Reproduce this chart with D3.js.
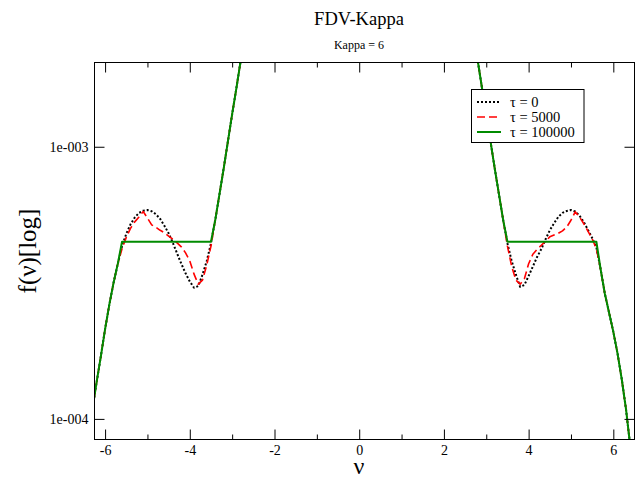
<!DOCTYPE html>
<html>
<head>
<meta charset="utf-8">
<script src="https://cdn.jsdelivr.net/npm/d3@7"></script>
<style>
    body { margin: 0; background: #fff; }
    text { font-family: 'Liberation Serif', 'Times New Roman', serif; fill: #000; }
</style>
</head>
<body>
<svg id="chart" width="643" height="481"></svg>
<script>
// velocity grid; the core |v| < 2.6 lies far above the plot and is clipped anyway
const nu = [
    -6.3, -6.2, -6.1, -6.0, -5.9, -5.8, -5.7, -5.6, -5.5, -5.4, -5.3, -5.2, -5.1,
    -5.0, -4.9, -4.8, -4.7, -4.6, -4.5, -4.4, -4.3, -4.2, -4.1, -4.0, -3.9, -3.8,
    -3.7, -3.6, -3.5, -3.4, -3.3, -3.2, -3.1, -3.0, -2.9, -2.8, -2.7, -2.6,
    2.6, 2.7, 2.8, 2.9, 3.0, 3.1, 3.2, 3.3, 3.4, 3.5, 3.6, 3.7, 3.8, 3.9,
    4.0, 4.1, 4.2, 4.3, 4.4, 4.5, 4.6, 4.7, 4.8, 4.9, 5.0, 5.1, 5.2, 5.3,
    5.4, 5.5, 5.6, 5.7, 5.8, 5.9, 6.0, 6.1, 6.2, 6.3, 6.4, 6.5,
];

// f(v), in units of 1e-4
const fTau0 = [
    1.084, 1.365, 1.698, 2.138, 2.630, 3.162, 3.715, 4.315, 4.786, 5.188, 5.495, 5.715, 5.821,
    5.855, 5.794, 5.650, 5.433, 5.129, 4.809, 4.436, 4.055, 3.715, 3.428, 3.199, 3.033, 3.076,
    3.388, 3.802, 4.416, 5.37, 6.68, 8.32, 10.47, 13.18, 16.41, 20.65, 25.7, 32.4,
    32.4, 25.7, 20.65, 16.41, 13.18, 10.47, 8.32, 6.68, 5.37, 4.416, 3.802, 3.388, 3.055, 3.104,
    3.350, 3.631, 3.935, 4.207, 4.571, 4.932, 5.235, 5.521, 5.715, 5.808, 5.855, 5.781, 5.585, 5.297,
    4.955, 4.624, 4.266, 3.548, 2.884, 2.455, 2.089, 1.738, 1.396, 1.084, 0.794, 0.575,
];

const fTau5000 = [
    1.084, 1.365, 1.698, 2.138, 2.630, 3.162, 3.715, 4.217, 4.645, 5.012, 5.297, 5.521, 5.781,
    5.470, 5.164, 5.058, 4.932, 4.831, 4.699, 4.571, 4.436, 4.286, 4.074, 3.802, 3.404, 3.126,
    3.236, 3.673, 4.315, 5.37, 6.68, 8.32, 10.47, 13.18, 16.41, 20.65, 25.7, 32.4,
    32.4, 25.7, 20.65, 16.41, 13.18, 10.47, 8.32, 6.68, 5.37, 4.315, 3.631, 3.236, 3.126, 3.273,
    3.715, 4.027, 4.198, 4.345, 4.498, 4.667, 4.742, 4.809, 4.909, 5.070, 5.370, 5.768, 5.521, 5.224,
    4.898, 4.592, 4.217, 3.548, 2.884, 2.455, 2.089, 1.738, 1.396, 1.084, 0.794, 0.575,
];

const fTau100000 = [
    1.084, 1.365, 1.698, 2.138, 2.630, 3.162, 3.715, 4.477, 4.477, 4.477, 4.477, 4.477, 4.477,
    4.477, 4.477, 4.477, 4.477, 4.477, 4.477, 4.477, 4.477, 4.477, 4.477, 4.477, 4.477, 4.477,
    4.477, 4.477, 4.477, 5.37, 6.68, 8.32, 10.47, 13.18, 16.41, 20.65, 25.7, 32.4,
    32.4, 25.7, 20.65, 16.41, 13.18, 10.47, 8.32, 6.68, 5.37, 4.477, 4.477, 4.477, 4.477, 4.477,
    4.477, 4.477, 4.477, 4.477, 4.477, 4.477, 4.477, 4.477, 4.477, 4.477, 4.477, 4.477, 4.477, 4.477,
    4.477, 4.477, 4.477, 3.548, 2.884, 2.455, 2.089, 1.738, 1.396, 1.084, 0.794, 0.575,
];

const seriesLabels = ['\u03c4 = 0', '\u03c4 = 5000', '\u03c4 = 100000'];
const xMajorTicks = [-6, -4, -2, 0, 2, 4, 6];
const xMinorTicks = [-5, -3, -1, 1, 3, 5];
const yTicks = [1e-4, 1e-3];
const yTickLabels = ['1e-004', '1e-003'];

const frame = { left: 94.5, right: 634.5, top: 62.5, bottom: 439.5 };

const svg = d3.select('#chart');

const x = d3.scaleLinear()
    .domain([-6.25, 6.5])
    .range([frame.left, frame.right]);
const y = d3.scaleLog()
    .domain([8.4e-5, 2.04e-3])
    .range([frame.bottom, frame.top]);

const series = [
    { values: fTau0, color: '#000000', dash: '2,2', width: 2 },
    { values: fTau5000, color: '#ff0000', dash: '8,4', width: 1.6 },
    { values: fTau100000, color: '#008b00', dash: null, width: 2 },
];

svg.append('clipPath')
    .attr('id', 'plot-clip')
    .append('rect')
    .attr('x', frame.left)
    .attr('y', frame.top)
    .attr('width', frame.right - frame.left)
    .attr('height', frame.bottom - frame.top);

const line = d3.line()
    .x((d) => x(d[0]))
    .y((d) => y(d[1] * 1e-4));

const curves = svg.append('g').attr('clip-path', 'url(#plot-clip)');
series.forEach((s) => {
    curves.append('path')
        .datum(nu.map((v, i) => [v, s.values[i]]))
        .attr('d', line)
        .attr('fill', 'none')
        .attr('stroke', s.color)
        .attr('stroke-width', s.width)
        .attr('stroke-dasharray', s.dash)
        .attr('stroke-linejoin', 'round');
});

// axes: ticks point inward on all four sides
const drawAxis = (axis, transform) => {
    const g = svg.append('g')
        .attr('transform', transform)
        .style('font-size', '14px')
        .style('font-family', "'Liberation Serif', 'Times New Roman', serif")
        .call(axis);
    g.select('.domain').remove();
    g.selectAll('.tick line').attr('stroke', '#000');
    return g;
};

drawAxis(d3.axisBottom(x).tickValues(xMajorTicks).tickSize(-10).tickPadding(6)
    .tickFormat((d) => String(d)), `translate(0,${frame.bottom})`);
drawAxis(d3.axisBottom(x).tickValues(xMinorTicks).tickSize(-5).tickFormat(''),
    `translate(0,${frame.bottom})`);
drawAxis(d3.axisTop(x).tickValues(xMajorTicks).tickSize(-10).tickFormat(''),
    `translate(0,${frame.top})`);
drawAxis(d3.axisTop(x).tickValues(xMinorTicks).tickSize(-5).tickFormat(''),
    `translate(0,${frame.top})`);
drawAxis(d3.axisLeft(y).tickValues(yTicks).tickSize(-10).tickPadding(6)
    .tickFormat((d, i) => yTickLabels[i]), `translate(${frame.left},0)`);
drawAxis(d3.axisRight(y).tickValues(yTicks).tickSize(-10).tickFormat(''),
    `translate(${frame.right},0)`);

svg.append('rect')
    .attr('x', frame.left)
    .attr('y', frame.top)
    .attr('width', frame.right - frame.left)
    .attr('height', frame.bottom - frame.top)
    .attr('fill', 'none')
    .attr('stroke', '#000')
    .attr('stroke-width', 1);

// titles
svg.append('text')
    .attr('x', 359)
    .attr('y', 24.5)
    .attr('text-anchor', 'middle')
    .style('font-size', '18.5px')
    .text('FDV-Kappa');
svg.append('text')
    .attr('x', 359)
    .attr('y', 48.5)
    .attr('text-anchor', 'middle')
    .style('font-size', '12px')
    .text('Kappa = 6');

svg.append('text')
    .attr('x', 359)
    .attr('y', 474)
    .attr('text-anchor', 'middle')
    .style('font-size', '24px')
    .text('\u03bd');
svg.append('text')
    .attr('transform', 'translate(36,251) rotate(-90)')
    .attr('text-anchor', 'middle')
    .style('font-size', '25px')
    .text('f(\u03bd)[log]');

// legend
const legend = svg.append('g');
legend.append('rect')
    .attr('x', 471.5)
    .attr('y', 89.5)
    .attr('width', 112.5)
    .attr('height', 53)
    .attr('fill', '#fff')
    .attr('stroke', '#000')
    .attr('stroke-width', 1);
series.forEach((s, i) => {
    const rowY = 102 + i * 15;
    legend.append('line')
        .attr('x1', 477)
        .attr('x2', 501)
        .attr('y1', rowY)
        .attr('y2', rowY)
        .attr('stroke', s.color)
        .attr('stroke-width', s.width)
        .attr('stroke-dasharray', s.dash);
    legend.append('text')
        .attr('x', 510)
        .attr('y', rowY + 5)
        .style('font-size', '14.5px')
        .text(seriesLabels[i]);
});
</script>
</body>
</html>
